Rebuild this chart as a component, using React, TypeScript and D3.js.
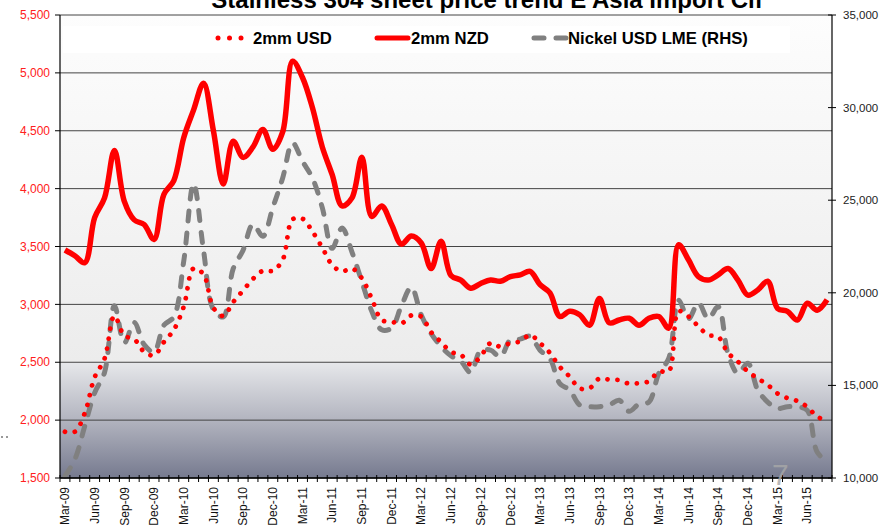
import React from "react";
import * as d3 from "d3";

const months = [
  "Mar-09","Apr-09","May-09","Jun-09","Jul-09","Aug-09","Sep-09","Oct-09","Nov-09","Dec-09",
  "Jan-10","Feb-10","Mar-10","Apr-10","May-10","Jun-10","Jul-10","Aug-10","Sep-10","Oct-10","Nov-10","Dec-10",
  "Jan-11","Feb-11","Mar-11","Apr-11","May-11","Jun-11","Jul-11","Aug-11","Sep-11","Oct-11","Nov-11","Dec-11",
  "Jan-12","Feb-12","Mar-12","Apr-12","May-12","Jun-12","Jul-12","Aug-12","Sep-12","Oct-12","Nov-12","Dec-12",
  "Jan-13","Feb-13","Mar-13","Apr-13","May-13","Jun-13","Jul-13","Aug-13","Sep-13","Oct-13","Nov-13","Dec-13",
  "Jan-14","Feb-14","Mar-14","Apr-14","May-14","Jun-14","Jul-14","Aug-14","Sep-14","Oct-14","Nov-14","Dec-14",
  "Jan-15","Feb-15","Mar-15","Apr-15","May-15","Jun-15","Jul-15","Aug-15",
];

const usd2mm = [
  1900,1900,2060,2370,2530,2900,2730,2700,2590,2560,
  2675,2780,2980,3310,3260,2970,2900,3020,3120,3220,3290,3290,
  3385,3735,3740,3630,3490,3340,3285,3310,3225,3050,2865,2850,
  2835,2905,2895,2760,2675,2590,2565,2480,2550,2665,2635,2665,
  2680,2735,2665,2580,2460,2375,2275,2275,2360,2350,2345,2315,
  2320,2335,2420,2420,2940,2895,2810,2735,2720,2580,2505,2420,
  2360,2305,2230,2190,2165,2115,2030,1995,
];

const nzd2mm = [
  3470,3420,3360,3750,3920,4330,3890,3730,3690,3560,
  3950,4070,4440,4680,4910,4500,4040,4410,4270,4360,4510,4340,
  4490,5100,4960,4700,4360,4120,3850,3920,4270,3760,3850,3690,
  3520,3590,3530,3310,3545,3250,3210,3140,3180,3210,3200,3240,
  3255,3285,3170,3100,2895,2940,2910,2820,3050,2840,2865,2880,
  2820,2880,2895,2795,3515,3385,3240,3210,3255,3310,3210,3080,
  3125,3200,2965,2940,2865,3010,2950,3040,
];

const nickelLme = [
  10100,11000,12800,14600,15700,19300,17300,18400,17200,16800,
  18250,18700,21700,25900,22300,19100,18700,21300,22300,23700,23050,24600,
  26200,28100,27100,26200,24600,22400,23500,22200,20600,19000,18000,18100,
  19300,20300,18800,17800,17100,16600,16300,15700,16900,16900,16550,17450,
  17500,17650,16900,16450,15100,14750,13950,13850,13850,13950,14200,13600,
  14000,14100,15650,16450,19600,18600,19450,18600,19250,16700,15650,16200,
  14750,14100,13750,13850,13850,13650,11400,10900,
];

const leftTicks = [1500, 2000, 2500, 3000, 3500, 4000, 4500, 5000, 5500];
const rightTicks = [10000, 15000, 20000, 25000, 30000, 35000];
const xLabels = months.filter((m) => /^(Mar|Jun|Sep|Dec)/.test(m));

const title = "Stainless 304 sheet price trend E Asia Import Cif";
const legendNames = ["2mm USD", "2mm NZD", "Nickel USD LME (RHS)"];

const W = 883;
const H = 526;
const L = 60;
const R = 832;
const T = 15;
const B = 478;
const FONT = "Arial, 'Liberation Sans', sans-serif";

export default function App() {
  const x = d3.scaleBand<string>().domain(months).range([L, R]).padding(0);
  const xc = (m: string) => (x(m) as number) + x.bandwidth() / 2;
  const yL = d3.scaleLinear().domain([1500, 5500]).range([B, T]);
  const yR = d3.scaleLinear().domain([10000, 35000]).range([B, T]);
  const fmt = d3.format(",");

  const lineL = d3
    .line<number>()
    .x((_, i) => xc(months[i]))
    .y((d) => yL(d))
    .curve(d3.curveCatmullRom.alpha(0.5));
  const lineR = d3
    .line<number>()
    .x((_, i) => xc(months[i]))
    .y((d) => yR(d))
    .curve(d3.curveCatmullRom.alpha(0.5));

  const bounds = [...months.map((m) => x(m) as number), R];

  return (
    <svg
      width={W}
      height={H}
      style={{ position: "absolute", left: 0, top: 0, background: "#fff" }}
      fontFamily={FONT}
    >
      <defs>
        <linearGradient id="plotbg" x1="0" y1="0" x2="0" y2="1">
          <stop offset="0" stopColor="#fdfdfd" />
          <stop offset="0.75" stopColor="#ececec" />
          <stop offset="0.752" stopColor="#e6e7ea" />
          <stop offset="0.875" stopColor="#b2b4bf" />
          <stop offset="1" stopColor="#767a8f" />
        </linearGradient>
        <clipPath id="plotclip">
          <rect x={L} y={T - 4} width={R - L + 4} height={B - T + 8} />
        </clipPath>
      </defs>

      <rect x={L} y={T} width={R - L} height={B - T} fill="url(#plotbg)" />
      <rect x={63} y={26} width={727} height={27} fill="#ffffff" />

      {leftTicks.map((v) => (
        <line key={"g" + v} x1={L} x2={R} y1={yL(v)} y2={yL(v)} stroke="#444" strokeWidth={1} />
      ))}

      {/* title */}
      <text x={487} y={8} textAnchor="middle" fontSize={24} fontWeight="bold" fill="#000">
        {title}
      </text>

      {/* legend */}
      {[218, 229.5, 241].map((cx) => (
        <circle key={cx} cx={cx} cy={38} r={2.5} fill="#ff0000" />
      ))}
      <text x={253} y={44} fontSize={16.7} fontWeight="bold" fill="#000">{legendNames[0]}</text>
      <line x1={377} x2={408} y1={38} y2={38} stroke="#ff0000" strokeWidth={5} strokeLinecap="round" />
      <text x={411} y={44} fontSize={16.7} fontWeight="bold" fill="#000">{legendNames[1]}</text>
      <line x1={534} x2={566} y1={38} y2={38} stroke="#808080" strokeWidth={5} strokeLinecap="round" strokeDasharray="10 12" />
      <text x={568} y={44} fontSize={16.7} fontWeight="bold" fill="#000">{legendNames[2]}</text>

      {/* series */}
      <g clipPath="url(#plotclip)">
        <path d={lineR(nickelLme) || ""} fill="none" stroke="#808080" strokeWidth={5} strokeLinecap="round" strokeDasharray="10 12" />
        <path d={lineL(nzd2mm) || ""} fill="none" stroke="#ff0000" strokeWidth={5.5} strokeLinejoin="round" />
        <path d={lineL(usd2mm) || ""} fill="none" stroke="#ff0000" strokeWidth={4.8} strokeLinecap="round" strokeDasharray="0.01 10" />
      </g>

      {/* axes */}
      <line x1={L} x2={L} y1={T} y2={B} stroke="#000" strokeWidth={1.2} />
      <line x1={R} x2={R} y1={T} y2={B} stroke="#000" strokeWidth={1.2} />
      <line x1={L} x2={R} y1={B} y2={B} stroke="#000" strokeWidth={1.5} />

      {leftTicks.map((v) => (
        <g key={"l" + v}>
          <line x1={L - 5} x2={L} y1={yL(v)} y2={yL(v)} stroke="#000" />
          <text x={50} y={yL(v)} dy="0.35em" textAnchor="end" fontSize={12} fill="#ff2020">
            {fmt(v)}
          </text>
        </g>
      ))}

      {rightTicks.map((v) => (
        <g key={"r" + v}>
          <line x1={R - 4} x2={R + 4} y1={yR(v)} y2={yR(v)} stroke="#000" />
          <text x={843} y={yR(v)} dy="0.35em" textAnchor="start" fontSize={11.5} fill="#222">
            {fmt(v)}
          </text>
        </g>
      ))}

      {bounds.map((bx, i) => (
        <line key={"t" + i} x1={bx} x2={bx} y1={B - 3} y2={B + 4} stroke="#000" />
      ))}

      {xLabels.map((m) => (
        <text
          key={m}
          transform={`translate(${xc(m)},${487}) rotate(-90)`}
          dy="0.35em"
          textAnchor="end"
          fontSize={12}
          fill="#111"
        >
          {m}
        </text>
      ))}

      {/* stray marks in the original image */}
      <circle cx={2} cy={437} r={1} fill="#777" />
      <circle cx={7} cy={437} r={1} fill="#777" />
      <text x={772} y={485} fontSize={30} fill="#a8a8a8" opacity={0.8}>7</text>
    </svg>
  );
}
